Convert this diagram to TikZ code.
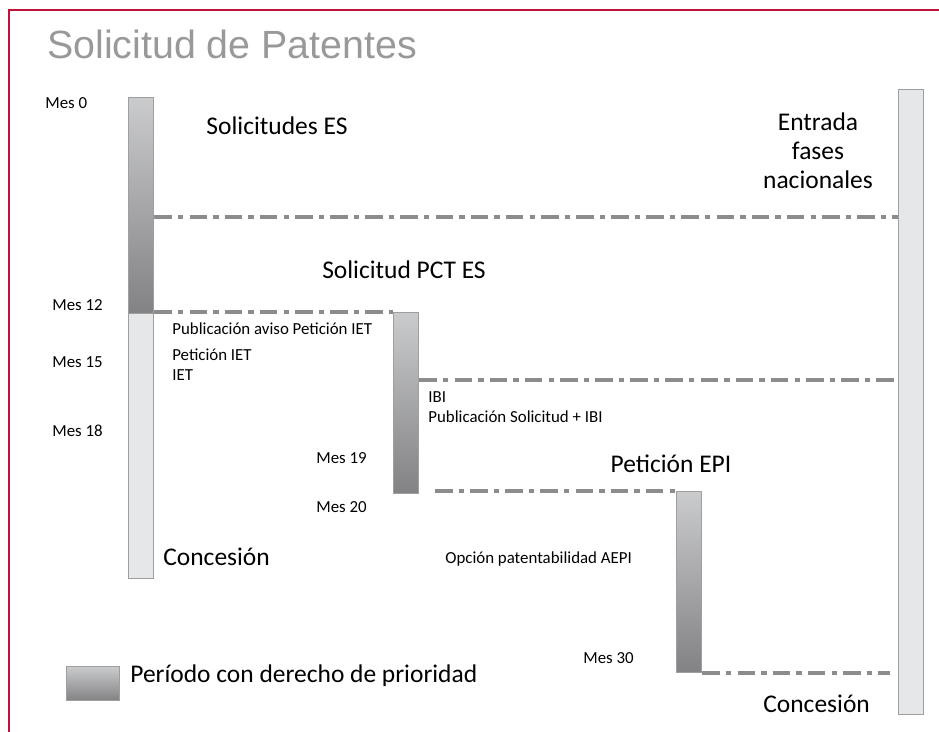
\documentclass[tikz,border=0pt]{standalone}
\usepackage{fontspec}
\setmainfont{Carlito}
\newfontfamily\titlefont{Liberation Sans}
\usepackage{tikz}
\definecolor{framered}{RGB}{190,20,60}
\definecolor{barlight}{RGB}{230,231,232}
\definecolor{bartop}{RGB}{202,203,205}
\definecolor{barbottom}{RGB}{130,130,132}
\definecolor{linegray}{RGB}{140,140,140}
\tikzset{
	periodstyle/.style={rectangle,draw=gray!75,line width=0.8pt,top color=bartop,bottom color=barbottom,minimum width=0.5cm,inner sep=0pt,anchor=north west},
	phasestyle/.style={rectangle,draw=gray!75,line width=0.8pt,fill=barlight,minimum width=0.5cm,inner sep=0pt,anchor=north west},
	linkstyle/.style={draw=linegray,line width=2.2pt,dash pattern=on 10pt off 3.5pt on 3pt off 3.5pt},
	bigtext/.style={inner sep=0pt,font=\fontsize{14.5}{18}\selectfont},
	smalltext/.style={inner sep=0pt,anchor=west,font=\fontsize{9.6}{11.5}\selectfont}
}

\begin{document}
\begin{tikzpicture}[x=0.02cm,y=-0.02cm]
		\useasboundingbox (0,0) rectangle (939,732);
		\draw[framered,line width=1.2pt] (9,732) -- (9,10) -- (939,10);
		\node[anchor=west,inner sep=0pt,text=gray!80,font=\titlefont\fontsize{22.4}{27}\selectfont] (title) at (47,44) {Solicitud de Patentes};
		% barras
		\node[periodstyle,minimum height=4.32cm] (esA) at (128,97) {};
		\node[phasestyle,minimum height=5.30cm] (esB) at (128,313) {};
		\node[periodstyle,minimum height=3.62cm] (pct) at (393,312) {};
		\node[periodstyle,minimum height=3.62cm] (epi) at (676,491) {};
		\node[phasestyle,minimum height=12.5cm] (nac) at (898,89) {};
		\node[periodstyle,minimum width=1.06cm,minimum height=0.68cm] (leg) at (66,666) {};
		% lineas
		\coordinate (y217) at (0,217);
		\coordinate (y380) at (0,380);
		\coordinate (y491) at (435,491);
		\draw[linkstyle] (esA.east |- y217) -- (nac.west |- y217);
		\draw[linkstyle] (esA.east |- pct.north) -- (pct.north west);
		\draw[linkstyle] (pct.east |- y380) -- (nac.west |- y380);
		\draw[linkstyle] (y491) -- (epi.north west);
		\draw[linkstyle] (epi.south east) -- ([xshift=-0.16cm]nac.west |- epi.south east);
		% meses
		\node[smalltext] (m0) at (45,103) {Mes 0};
		\node[smalltext] (m12) at (52,305) {Mes 12};
		\node[smalltext] (m15) at (52,362) {Mes 15};
		\node[smalltext] (m18) at (52,431) {Mes 18};
		\node[smalltext] (m19) at (316,458) {Mes 19};
		\node[smalltext] (m20) at (316,507) {Mes 20};
		\node[smalltext] (m30) at (583,658) {Mes 30};
		% textos
		\node[bigtext] (soles) at (277,126) {Solicitudes ES};
		\node[bigtext,align=center,font=\fontsize{14.5}{16.5}\selectfont] (entrada) at (818,151) {Entrada\\fases\\nacionales};
		\node[bigtext] (solpct) at (404,270) {Solicitud PCT ES};
		\node[bigtext] (petepi) at (671,464) {Petición EPI};
		\node[bigtext,anchor=west] (conc1) at (163,557) {Concesión};
		\node[bigtext,anchor=west] (conc2) at (763,704) {Concesión};
		\node[bigtext,anchor=west] (legtext) at (130,676) {Período con derecho de prioridad};
		\node[smalltext] (pubaviso) at (172,329) {Publicación aviso Petición IET};
		\node[smalltext] (petiet) at (172,355) {Petición IET};
		\node[smalltext] (iet) at (172,375) {IET};
		\node[smalltext] (ibi) at (428,397) {IBI};
		\node[smalltext] (pubibi) at (428,417) {Publicación Solicitud + IBI};
		\node[smalltext] (aepi) at (445,559) {Opción patentabilidad AEPI};
\end{tikzpicture}
\end{document}
